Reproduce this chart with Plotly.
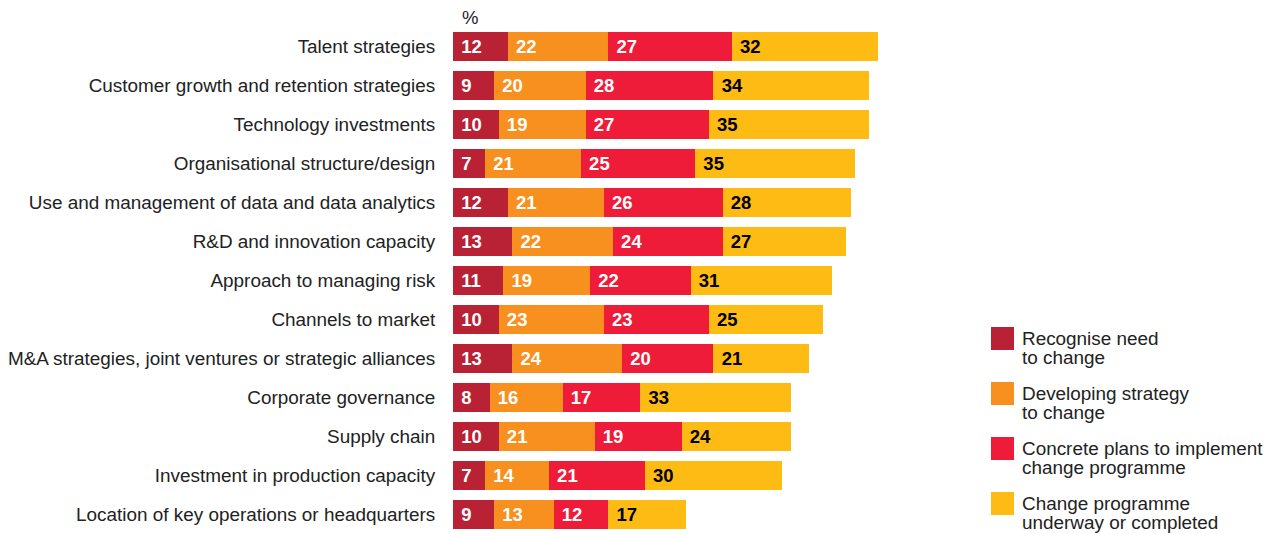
import plotly.graph_objects as go

# categories, top to bottom
categories = [
    'Talent strategies',
    'Customer growth and retention strategies',
    'Technology investments',
    'Organisational structure/design',
    'Use and management of data and data analytics',
    'R&D and innovation capacity',
    'Approach to managing risk',
    'Channels to market',
    'M&A strategies, joint ventures or strategic alliances',
    'Corporate governance',
    'Supply chain',
    'Investment in production capacity',
    'Location of key operations or headquarters',
]

recognise = [12, 9, 10, 7, 12, 13, 11, 10, 13, 8, 10, 7, 9]
developing = [22, 20, 19, 21, 21, 22, 19, 23, 24, 16, 21, 14, 13]
concrete = [27, 28, 27, 25, 26, 24, 22, 23, 20, 17, 19, 21, 12]
underway = [32, 34, 35, 35, 28, 27, 31, 25, 21, 33, 24, 30, 17]

series_names = [
    'Recognise need<br>to change',
    'Developing strategy<br>to change',
    'Concrete plans to implement<br>change programme',
    'Change programme<br>underway or completed',
]
series_values = [recognise, developing, concrete, underway]
colors = ['#B82234', '#F7901E', '#EE1C39', '#FDBB13']
text_colors = ['white', 'white', 'white', 'black']

FONT = 'Liberation Sans, Arial, sans-serif'
OFF = 8  # page body margin
W, H = 1279 - OFF, 534 - OFF
ML, MT = 453 - OFF, 27 - OFF
PLOT_W = 457  # 0..100 on x
PLOT_H = H - MT

def px_x(p):
    return (p - OFF - ML) / PLOT_W

def px_y(p):
    return (H - (p - OFF)) / PLOT_H

fig = go.Figure()
for name, vals, col, tcol in zip(series_names, series_values, colors, text_colors):
    fig.add_trace(go.Bar(
        y=categories,
        x=vals,
        name=name,
        orientation='h',
        marker=dict(color=col, line=dict(width=0)),
        text=['\u00a0' + str(v) for v in vals],
        texttemplate='%{text}',
        textposition='inside',
        insidetextanchor='start',
        textangle=0,
        constraintext='none',
        textfont=dict(family=FONT, size=18.5, color=tcol, weight='bold'),
        showlegend=False,
    ))

# manual legend with big square swatches
for i, (name, col) in enumerate(zip(series_names, colors)):
    top = 327 + 55 * i
    fig.add_shape(type='rect', xref='paper', yref='paper',
                  x0=px_x(991), x1=px_x(1014), y0=px_y(top), y1=px_y(top + 23),
                  fillcolor=col, line=dict(width=0))
    for j, line in enumerate(name.split('<br>')):
        fig.add_annotation(xref='paper', yref='paper', x=px_x(1020), y=px_y(338 + 55 * i + 19 * j),
                           text=line, showarrow=False, xanchor='left', yanchor='middle',
                           font=dict(size=18.9, color='#222222'))

fig.add_annotation(xref='paper', yref='paper', x=px_x(470), y=px_y(18), text='%',
                   showarrow=False, xanchor='center', yanchor='middle',
                   font=dict(size=18.5, color='#222222'))

fig.update_layout(
    barmode='stack',
    bargap=0.26,
    width=W, height=H,
    margin=dict(l=ML, r=W - ML - PLOT_W, t=MT, b=0),
    paper_bgcolor='white',
    plot_bgcolor='white',
    font=dict(family=FONT, size=18.9, color='#222222'),
    xaxis=dict(range=[0, 100], visible=False, fixedrange=True),
    yaxis=dict(range=[12.5, -0.5], showgrid=False, zeroline=False, showline=False,
               ticks='outside', ticklen=13, tickcolor='rgba(0,0,0,0)', fixedrange=True),
)

fig.write_html('out.html')
